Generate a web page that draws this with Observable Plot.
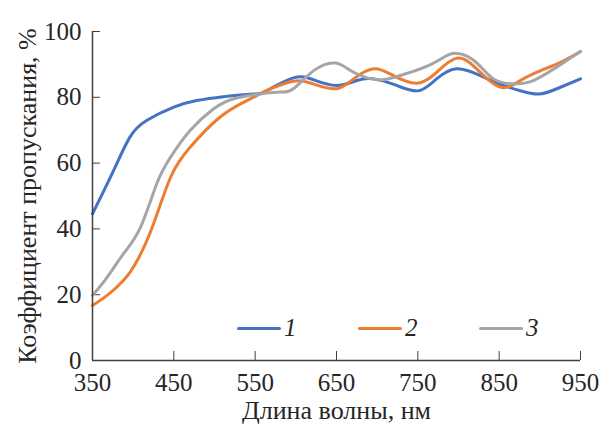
<!DOCTYPE html>
<html><head><meta charset="utf-8">
<script src="https://cdn.jsdelivr.net/npm/d3@7"></script>
<script src="https://cdn.jsdelivr.net/npm/@observablehq/plot@0.6"></script>
<style>
body{margin:0;background:#fff}
#wrap{position:relative;width:601px;height:424px}
#wrap g[aria-label="x-title"] text{letter-spacing:1.3px}
#wrap g[aria-label="y-title"] text{letter-spacing:0.6px}
.leg{position:absolute;top:312px;height:32px;display:flex;align-items:center;font:italic 25px "Liberation Serif","Times New Roman",serif;color:#262626}
.leg .sw{display:inline-block;width:44px;height:3px;border-radius:2px;margin-right:3px}
</style>
</head><body><div id="wrap"></div><script>
const seriesNames = ["1", "2", "3"];
const seriesColors = ["#4472C4", "#ED7D31", "#A5A5A5"];
const xTicks = [350, 450, 550, 650, 750, 850, 950];
const yTicks = [0, 20, 40, 60, 80, 100];
const xLabel = "Длина волны, нм";
const yLabel = "Коэффициент пропускания, %";

const wave1 = [350, 376, 396, 417, 450, 478, 511, 548, 564, 597, 622, 650, 675, 696, 724, 751, 773, 798, 827, 851, 876, 899, 921, 950];
const val1  = [44.6, 57.8, 67.9, 73, 77, 79, 80.2, 81, 82, 85.9, 85.3, 83.6, 85.1, 85.6, 83.6, 82, 85.6, 88.7, 86.6, 84, 82, 81, 82.6, 85.6];

const wave2 = [350, 368, 388, 405, 425, 446, 470, 507, 540, 564, 597, 622, 650, 671, 696, 720, 749, 773, 798, 822, 851, 876, 901, 926, 950];
const val2  = [16.7, 19.8, 24.3, 30.4, 41.5, 55.7, 64.8, 74, 79, 82, 84.9, 84, 82.6, 85.6, 88.7, 86.6, 84.3, 87.6, 91.9, 88.7, 83.1, 85.1, 88.1, 90.7, 93.9];

const wave3 = [350, 368, 388, 409, 429, 446, 470, 499, 523, 556, 581, 597, 622, 649, 671, 700, 724, 757, 782, 796, 819, 843, 868, 892, 921, 950];
const val3  = [19.8, 25.3, 32.4, 40.5, 53.7, 61.8, 69.9, 76.5, 79.5, 81, 81.6, 82.6, 88.1, 90.4, 87.6, 85.3, 86.3, 89, 92.2, 93.4, 91.2, 85.6, 84.1, 85.1, 89.2, 93.9];

const rows = [
  ...wave1.map((x, i) => ({s: "1", x, y: val1[i]})),
  ...wave2.map((x, i) => ({s: "2", x, y: val2[i]})),
  ...wave3.map((x, i) => ({s: "3", x, y: val3[i]}))
];

const chart = Plot.plot({
  width: 601, height: 424,
  marginLeft: 92, marginRight: 21, marginTop: 31, marginBottom: 64,
  style: {fontFamily: '"Liberation Serif", "Times New Roman", serif', fontSize: "25px", color: "#262626", background: "#fff"},
  x: {domain: [350, 950]},
  y: {domain: [0, 100]},
  color: {domain: seriesNames, range: seriesColors},
  marks: [
    Plot.axisX({ticks: xTicks, tickSize: -9, tickPadding: 22, label: null, stroke: "#404040"}),
    Plot.axisY({ticks: yTicks, tickSize: -8, tickPadding: 19, label: null, stroke: "#404040"}),
    Plot.text([xLabel], {frameAnchor: "bottom", textAnchor: "middle", lineAnchor: "middle", dy: 50, fontSize: 26, fill: "#262626", ariaLabel: "x-title"}),
    Plot.text([yLabel], {frameAnchor: "left", textAnchor: "middle", lineAnchor: "middle", rotate: -90, dx: -65, fontSize: 26, fill: "#262626", ariaLabel: "y-title"}),
    Plot.line(rows, {x: "x", y: "y", z: "s", stroke: "s", strokeWidth: 3, curve: "natural"}),
    Plot.ruleX([350], {stroke: "#404040", strokeWidth: 1.5}),
    Plot.ruleY([0], {stroke: "#404040", strokeWidth: 1.5})
  ]
});
const wrap = document.getElementById("wrap");
wrap.appendChild(chart);
seriesNames.forEach((n, i) => {
  const d = document.createElement("div");
  d.className = "leg";
  d.style.left = (237 + i * 121) + "px";
  d.innerHTML = `<span class="sw" style="background:${seriesColors[i]}"></span><span>${n}</span>`;
  wrap.appendChild(d);
});
</script></body></html>
